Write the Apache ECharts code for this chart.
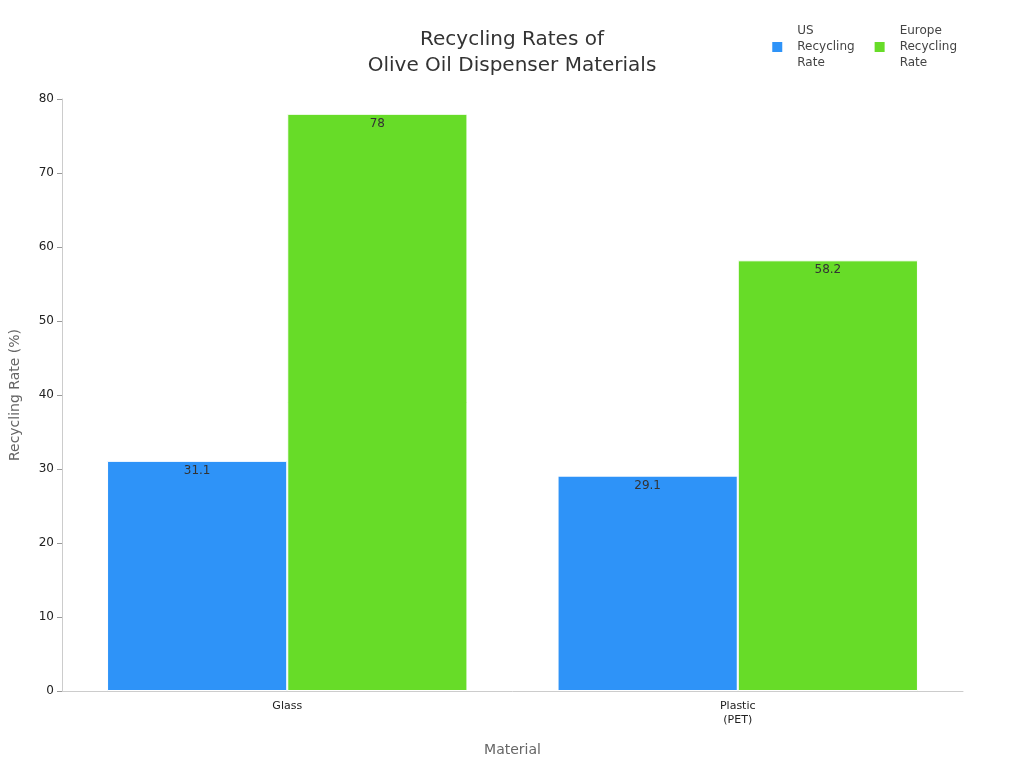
<!DOCTYPE html>
<html>
<head>
<meta charset="utf-8">
<script src="https://cdn.jsdelivr.net/npm/echarts@6/dist/echarts.min.js"></script>
<style>html,body{margin:0;padding:0;background:#fff}#main{width:1024px;height:768px}</style>
</head>
<body>
<div id="main"></div>
<script>
var categories = ['Glass', 'Plastic\n(PET)'];
var usRate = [31.1, 29.1];
var europeRate = [78, 58.2];

(function() {
    var myChart = echarts.init(document.getElementById('main'));
    var label = {
        show: true,
        position: 'insideTop',
        distance: 4,
        color: '#333',
        fontSize: 12
    };
    var option = {
        textStyle: { fontFamily: 'DejaVu Sans' },
        title: {
            text: 'Recycling Rates of\nOlive Oil Dispenser Materials',
            left: 'center',
            top: 22,
            textStyle: { fontSize: 20, fontWeight: 'normal', color: '#333', lineHeight: 26 }
        },
        legend: {
            top: 18,
            right: 62,
            icon: 'rect',
            itemWidth: 12,
            itemHeight: 12,
            itemGap: 18,
            textStyle: { fontSize: 12, color: '#444', lineHeight: 16, padding: [0, 0, 0, 9] },
            data: ['US\nRecycling\nRate', 'Europe\nRecycling\nRate']
        },
        grid: { left: 60, right: 61, top: 99, bottom: 77 },
        xAxis: {
            type: 'category',
            data: categories,
            name: 'Material',
            nameLocation: 'middle',
            nameGap: 52,
            nameTextStyle: { fontSize: 14, color: '#666' },
            axisLine: { lineStyle: { color: '#ccc' } },
            axisTick: { show: false },
            axisLabel: { color: '#222', fontSize: 11, lineHeight: 14 }
        },
        yAxis: {
            type: 'value',
            min: 0,
            max: 80,
            interval: 10,
            name: 'Recycling Rate (%)',
            nameLocation: 'middle',
            nameGap: 40,
            nameTextStyle: { fontSize: 14, color: '#666' },
            axisLine: { show: true, lineStyle: { color: '#ccc' } },
            axisTick: { show: true, lineStyle: { color: '#999' } },
            axisLabel: { color: '#222', fontSize: 12 },
            splitLine: { show: false }
        },
        series: [{
            name: 'US\nRecycling\nRate',
            type: 'bar',
            barGap: '0%',
            barCategoryGap: '20%',
            itemStyle: { color: '#2e93f8', borderColor: '#fff', borderWidth: 1 },
            label: label,
            data: usRate
        }, {
            name: 'Europe\nRecycling\nRate',
            type: 'bar',
            itemStyle: { color: '#67dc28', borderColor: '#fff', borderWidth: 1 },
            label: label,
            data: europeRate
        }]
    };
    myChart.setOption(option);
})();
</script>
</body>
</html>
